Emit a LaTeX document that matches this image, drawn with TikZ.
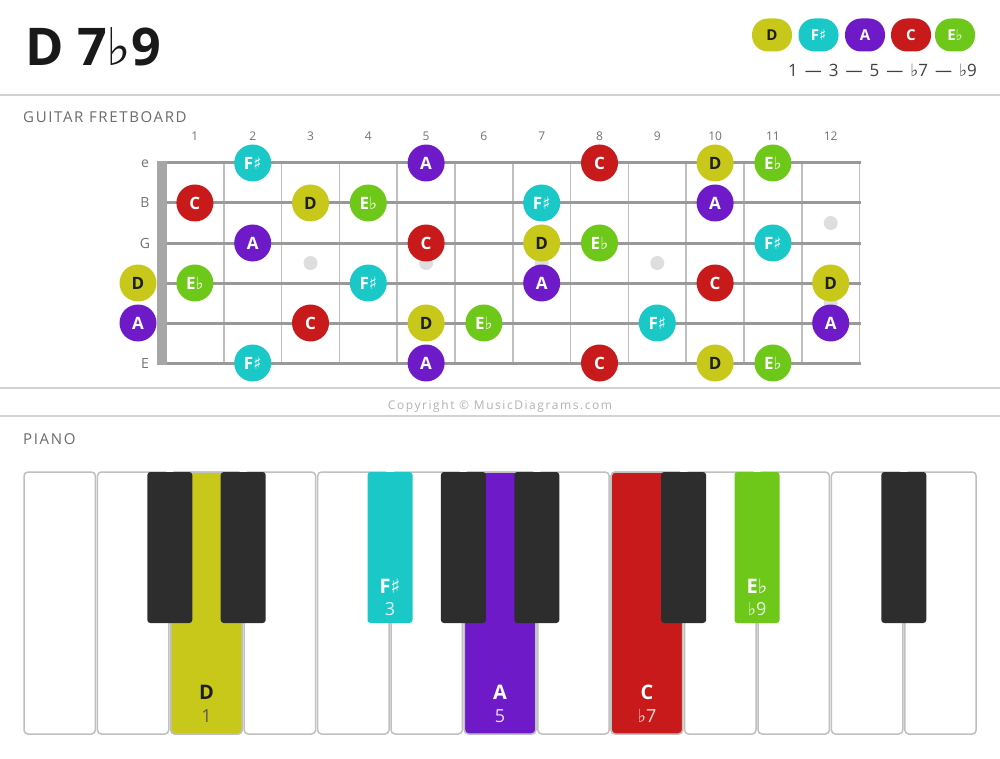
\documentclass[tikz,border=0pt]{standalone}
\usepackage{fontspec}
\setmainfont{Open Sans}
\newfontfamily\symf{DejaVu Sans}
\newcommand{\shp}{{\symf\char"266F}}
\newcommand{\flt}{{\symf\char"266D}}
\newcommand{\dsh}{\ \hspace{2.6pt}—\hspace{2.6pt}\ }
\definecolor{cD}{HTML}{C8C81A}
\definecolor{cFs}{HTML}{1AC8C8}
\definecolor{cA}{HTML}{6F1AC8}
\definecolor{cC}{HTML}{C81A1A}
\definecolor{cEb}{HTML}{6EC81A}
\definecolor{sepc}{HTML}{D2D2D2}
\definecolor{keyb}{HTML}{2D2D2D}
\definecolor{keyedge}{HTML}{C0C0C0}
\tikzset{
  sepline/.style={draw=sepc, line width=2pt},
  pill/.style={rounded corners=16pt, minimum height=33pt, minimum width=40pt, inner xsep=8pt, font=\fontsize{15}{15}\selectfont\bfseries, text=white},
  note/.style={circle, minimum size=37pt, inner sep=0pt, font=\fontsize{17}{17}\selectfont\bfseries, text=white},
  nD/.style={note, fill=cD, text=black!88},
  nFs/.style={note, fill=cFs},
  nA/.style={note, fill=cA},
  nC/.style={note, fill=cC},
  nEb/.style={note, fill=cEb},
  fret/.style={draw=black!25, line width=1.6pt},
  gstring/.style={draw=black!40, line width=3pt},
  inlay/.style={fill=black!13},
  sectitle/.style={anchor=base west, inner sep=0pt, font=\fontsize{15}{15}\selectfont\addfontfeature{LetterSpace=11}, text=black!58},
  smalllab/.style={font=\fontsize{12}{12}\selectfont, text=black!55, inner sep=0pt},
  wkey/.style={draw=keyedge, line width=1.5pt, rounded corners=4pt},
  bkey/.style={rounded corners=3pt},
  klabel/.style={anchor=base, inner sep=0pt, font=\fontsize{20}{20}\selectfont\bfseries},
  knum/.style={anchor=base, inner sep=0pt, font=\fontsize{18}{18}\selectfont},
}
\begin{document}
\begin{tikzpicture}[x=1pt,y=-1pt]
\useasboundingbox (0,0) rectangle (1000,759);
\fill[white] (0,0) rectangle (1000,759);

% header
\node[anchor=base west, inner sep=0pt, font=\fontsize{52}{52}\selectfont\bfseries, text=black!90] (title) at (25,66) {D 7\flt9};
\node[pill, fill=cD, text=black!88] (pD) at (772,35) {D};
\node[pill, fill=cFs] (pFs) at (818.5,35) {F\shp};
\node[pill, fill=cA] (pA) at (865,35) {A};
\node[pill, fill=cC] (pC) at (911,35) {C};
\node[pill, fill=cEb] (pEb) at (955,35) {E\flt};
\node[anchor=base east, inner sep=0pt, font=\fontsize{17}{17}\selectfont, text=black!75] (ivl) at (977,77) {1\dsh3\dsh5\dsh\flt7\dsh\flt9};
\draw[sepline] (0,95) -- (1000,95);

% guitar
\node[sectitle] (gtitle) at (23,123) {GUITAR FRETBOARD};
\foreach \k in {1,...,12}
  \node[smalllab] (fn\k) at ({166+57.8*(\k-0.5)},136) {\k};
\foreach \s/\l in {0/e,1/B,2/G,5/E}
  \node[anchor=base, font=\fontsize{14}{14}\selectfont, text=black!55, inner sep=0pt] (sl\s) at (145,{168+40*\s}) {\l};
\foreach \k in {1,...,12}
  \draw[fret] ({166+57.8*\k},163) -- ({166+57.8*\k},363);
\foreach \s in {0,...,5}
  \draw[gstring] (166,{163+40*\s}) -- (861,{163+40*\s});
\fill[black!35] (157,161) rectangle (167,365);
\foreach \f/\y in {3/263,5/263,7/263,9/263,12/223,12/303}
  \fill[inlay] ({166+57.8*(\f-0.5)},\y) circle (7pt);

\foreach \s/\f/\st/\t [count=\i] in {
  0/2/nFs/F\shp, 0/5/nA/A, 0/8/nC/C, 0/10/nD/D, 0/11/nEb/E\flt,
  1/1/nC/C, 1/3/nD/D, 1/4/nEb/E\flt, 1/7/nFs/F\shp, 1/10/nA/A,
  2/2/nA/A, 2/5/nC/C, 2/7/nD/D, 2/8/nEb/E\flt, 2/11/nFs/F\shp,
  3/0/nD/D, 3/1/nEb/E\flt, 3/4/nFs/F\shp, 3/7/nA/A, 3/10/nC/C, 3/12/nD/D,
  4/0/nA/A, 4/3/nC/C, 4/5/nD/D, 4/6/nEb/E\flt, 4/9/nFs/F\shp, 4/12/nA/A,
  5/2/nFs/F\shp, 5/5/nA/A, 5/8/nC/C, 5/10/nD/D, 5/11/nEb/E\flt}
{
  \pgfmathsetmacro\xx{\f==0 ? 138 : 166+57.8*(\f-0.5)}
  \node[\st] (n\i) at (\xx,{163+40*\s}) {\t};
}

\draw[sepline] (0,388) -- (1000,388);
\node[inner sep=0pt, font=\fontsize{12}{12}\selectfont\addfontfeature{LetterSpace=13}, text=black!30] (copy) at (500,406) {Copyright © MusicDiagrams.com};
\draw[sepline] (0,416) -- (1000,416);

% piano
\node[sectitle] (ptitle) at (23,444) {PIANO};
\foreach \i in {0,...,12}
  \draw[wkey, fill=white] ({23+73.4*\i+1},472) rectangle ({23+73.4*(\i+1)-1},734);
\draw[wkey, fill=cD] ({23+73.4*2+1},472) rectangle ({23+73.4*3-1},734);
\draw[wkey, fill=cA] ({23+73.4*6+1},472) rectangle ({23+73.4*7-1},734);
\draw[wkey, fill=cC] ({23+73.4*8+1},472) rectangle ({23+73.4*9-1},734);
\foreach \j in {2,3,6,7,9,12}
  \fill[bkey, keyb] ({23+73.4*\j-22.5},472) rectangle ({23+73.4*\j+22.5},623);
\fill[bkey, cFs] ({23+73.4*5-22.5},472) rectangle ({23+73.4*5+22.5},623);
\fill[bkey, cEb] ({23+73.4*10-22.5},472) rectangle ({23+73.4*10+22.5},623);

\node[klabel, text=black!88] (kD) at ({23+73.4*2.5},699) {D};
\node[knum, text=black!65] (kD1) at ({23+73.4*2.5},722) {1};
\node[klabel, text=white] (kFs) at ({23+73.4*5},593) {F\shp};
\node[knum, text=white!85!cFs] (kFs3) at ({23+73.4*5},615) {3};
\node[klabel, text=white] (kA) at ({23+73.4*6.5},699) {A};
\node[knum, text=white!85!cA] (kA5) at ({23+73.4*6.5},722) {5};
\node[klabel, text=white] (kC) at ({23+73.4*8.5},699) {C};
\node[knum, text=white!85!cC] (kC7) at ({23+73.4*8.5},722) {\flt7};
\node[klabel, text=white] (kEb) at ({23+73.4*10},593) {E\flt};
\node[knum, text=white!85!cEb] (kEb9) at ({23+73.4*10},615) {\flt9};
\end{tikzpicture}
\end{document}
